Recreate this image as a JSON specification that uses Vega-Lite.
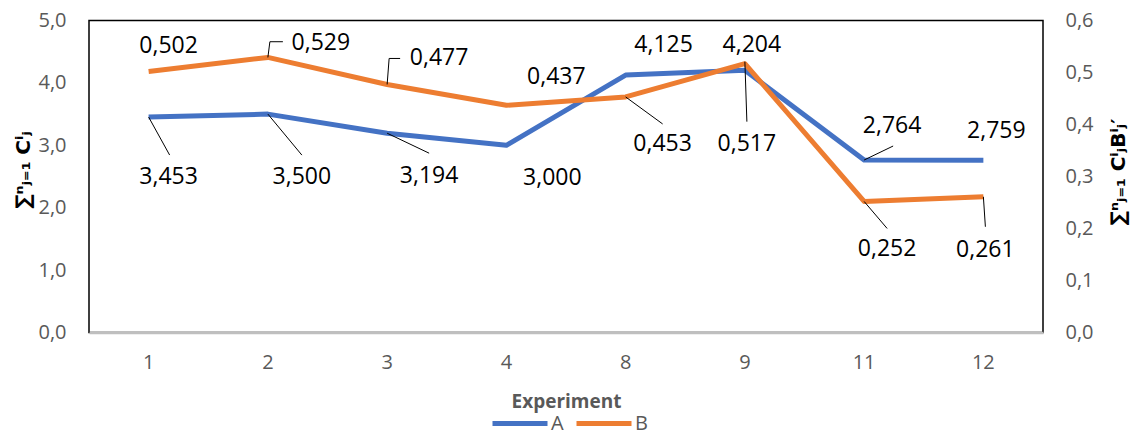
{
  "$schema": "https://vega.github.io/schema/vega-lite/v6.json",
  "autosize": {"type": "none"},
  "padding": {"left": 89, "top": 20.5, "right": 91, "bottom": 101.5},
  "width": 954,
  "height": 312,
  "config": {
    "locale": {"number": {"decimal": ",", "thousands": " ", "grouping": [3], "currency": ["", " €"]}},
    "view": {"stroke": "#000000", "strokeWidth": 1.5},
    "font": "Open Sans",
    "axis": {"grid": false, "ticks": false, "labelFont": "Open Sans", "labelFontSize": 20, "labelColor": "#595959", "domain": false}
  },
  "data": {
    "values": [
      {"Experiment": "1", "series": "A", "value": 3.453},
      {"Experiment": "2", "series": "A", "value": 3.5},
      {"Experiment": "3", "series": "A", "value": 3.194},
      {"Experiment": "4", "series": "A", "value": 3.0},
      {"Experiment": "8", "series": "A", "value": 4.125},
      {"Experiment": "9", "series": "A", "value": 4.204},
      {"Experiment": "11", "series": "A", "value": 2.764},
      {"Experiment": "12", "series": "A", "value": 2.759},
      {"Experiment": "1", "series": "B", "value": 0.502},
      {"Experiment": "2", "series": "B", "value": 0.529},
      {"Experiment": "3", "series": "B", "value": 0.477},
      {"Experiment": "4", "series": "B", "value": 0.437},
      {"Experiment": "8", "series": "B", "value": 0.453},
      {"Experiment": "9", "series": "B", "value": 0.517},
      {"Experiment": "11", "series": "B", "value": 0.252},
      {"Experiment": "12", "series": "B", "value": 0.261}
    ]
  },
  "layer": [
    {
      "transform": [{"filter": "datum.series === 'A'"}],
      "encoding": {
        "x": {"field": "Experiment", "type": "ordinal", "sort": ["1","2","3","4","8","9","11","12"],
          "axis": {"labelAngle": 0, "labelPadding": 30, "labelBaseline": "middle", "domain": true, "domainColor": "#BFBFBF", "domainWidth": 2.5,
            "title": "Experiment", "titleFont": "Open Sans", "titleFontSize": 19, "titleFontWeight": "bold", "titleColor": "#595959", "titleBaseline": "middle", "titleY": 69}},
        "y": {"field": "value", "type": "quantitative", "scale": {"domain": [0, 5], "nice": false},
          "axis": {"orient": "left", "values": [0,1,2,3,4,5], "format": ".1f", "labelPadding": 23,
            "title": "∑ⁿⱼ₌₁ Cⁱⱼ", "titleFont": "DejaVu Sans", "titleFontSize": 20, "titleFontWeight": "bold", "titleColor": "#000000",
            "titleAngle": -90, "titleAlign": "center", "titleBaseline": "middle", "titleX": -66, "titleY": 149}}
      },
      "layer": [
        {"mark": {"type": "line", "strokeWidth": 5, "strokeJoin": "round"},
          "encoding": {"color": {"field": "series", "type": "nominal", "scale": {"domain": ["A","B"], "range": ["#4472C4","#ED7D31"]},
            "legend": {"orient": "none", "legendX": 401, "legendY": 373, "direction": "horizontal", "title": null,
              "symbolType": "stroke", "symbolSize": 3025, "symbolStrokeWidth": 5, "labelFont": "Open Sans", "labelFontSize": 20, "labelColor": "#595959", "labelOffset": 1, "columnPadding": 2}}}},
        {"transform": [{"filter": "datum.Experiment === '1'"}], "mark": {"type": "rule", "color": "#000", "strokeWidth": 1, "x2Offset": 21, "y2Offset": 38}, "encoding": {"x2": {"field": "Experiment"}, "y2": {"field": "value"}}},
        {"transform": [{"filter": "datum.Experiment === '2'"}], "mark": {"type": "rule", "color": "#000", "strokeWidth": 1, "x2Offset": 34, "y2Offset": 41}, "encoding": {"x2": {"field": "Experiment"}, "y2": {"field": "value"}}},
        {"transform": [{"filter": "datum.Experiment === '3'"}], "mark": {"type": "rule", "color": "#000", "strokeWidth": 1, "x2Offset": 42, "y2Offset": 20}, "encoding": {"x2": {"field": "Experiment"}, "y2": {"field": "value"}}},
        {"transform": [{"filter": "datum.Experiment === '11'"}], "mark": {"type": "rule", "color": "#000", "strokeWidth": 1, "x2Offset": 29, "y2Offset": -14}, "encoding": {"x2": {"field": "Experiment"}, "y2": {"field": "value"}}},
        {"transform": [{"filter": "datum.Experiment === '1'"}], "mark": {"type": "text", "fontSize": 23, "color": "#000", "baseline": "middle", "dx": 20, "dy": 60}, "encoding": {"text": {"field": "value", "format": ".3f"}}},
        {"transform": [{"filter": "datum.Experiment === '2'"}], "mark": {"type": "text", "fontSize": 23, "color": "#000", "baseline": "middle", "dx": 34, "dy": 63}, "encoding": {"text": {"field": "value", "format": ".3f"}}},
        {"transform": [{"filter": "datum.Experiment === '3'"}], "mark": {"type": "text", "fontSize": 23, "color": "#000", "baseline": "middle", "dx": 42, "dy": 43}, "encoding": {"text": {"field": "value", "format": ".3f"}}},
        {"transform": [{"filter": "datum.Experiment === '4'"}], "mark": {"type": "text", "fontSize": 23, "color": "#000", "baseline": "middle", "dx": 46, "dy": 33}, "encoding": {"text": {"field": "value", "format": ".3f"}}},
        {"transform": [{"filter": "datum.Experiment === '8'"}], "mark": {"type": "text", "fontSize": 23, "color": "#000", "baseline": "middle", "dx": 38, "dy": -30}, "encoding": {"text": {"field": "value", "format": ".3f"}}},
        {"transform": [{"filter": "datum.Experiment === '9'"}], "mark": {"type": "text", "fontSize": 23, "color": "#000", "baseline": "middle", "dx": 7, "dy": -25}, "encoding": {"text": {"field": "value", "format": ".3f"}}},
        {"transform": [{"filter": "datum.Experiment === '11'"}], "mark": {"type": "text", "fontSize": 23, "color": "#000", "baseline": "middle", "dx": 28, "dy": -34}, "encoding": {"text": {"field": "value", "format": ".3f"}}},
        {"transform": [{"filter": "datum.Experiment === '12'"}], "mark": {"type": "text", "fontSize": 23, "color": "#000", "baseline": "middle", "dx": 13, "dy": -29}, "encoding": {"text": {"field": "value", "format": ".3f"}}}
      ]
    },
    {
      "transform": [{"filter": "datum.series === 'B'"}],
      "encoding": {
        "x": {"field": "Experiment", "type": "ordinal", "sort": ["1","2","3","4","8","9","11","12"],
          "axis": {"labelAngle": 0, "labelPadding": 30, "labelBaseline": "middle", "domain": true, "domainColor": "#BFBFBF", "domainWidth": 2.5,
            "title": "Experiment", "titleFont": "Open Sans", "titleFontSize": 19, "titleFontWeight": "bold", "titleColor": "#595959", "titleBaseline": "middle", "titleY": 69}},
        "y": {"field": "value", "type": "quantitative", "scale": {"domain": [0, 0.6], "nice": false},
          "axis": {"orient": "right", "values": [0,0.1,0.2,0.3,0.4,0.5,0.6], "format": ".1f", "labelPadding": 22,
            "title": "∑ⁿⱼ₌₁ CⁱⱼBⁱⱼ′", "titleFont": "DejaVu Sans", "titleFontSize": 20, "titleFontWeight": "bold", "titleColor": "#000000",
            "titleAngle": -90, "titleAlign": "center", "titleBaseline": "middle", "titleX": 75, "titleY": 151}}
      },
      "layer": [
        {"mark": {"type": "line", "strokeWidth": 5, "strokeJoin": "round"},
          "encoding": {"color": {"field": "series", "type": "nominal", "scale": {"domain": ["A","B"], "range": ["#4472C4","#ED7D31"]}}}},
        {"transform": [{"filter": "datum.Experiment === '2'"}], "mark": {"type": "rule", "color": "#000", "strokeWidth": 1, "x2Offset": 2, "y2Offset": -15.7}, "encoding": {"x2": {"field": "Experiment"}, "y2": {"field": "value"}}},
        {"transform": [{"filter": "datum.Experiment === '2'"}], "mark": {"type": "rule", "color": "#000", "strokeWidth": 1, "xOffset": 2, "yOffset": -15.7, "x2Offset": 15, "y2Offset": -15.7}, "encoding": {"x2": {"field": "Experiment"}, "y2": {"field": "value"}}},
        {"transform": [{"filter": "datum.Experiment === '3'"}], "mark": {"type": "rule", "color": "#000", "strokeWidth": 1, "x2Offset": 2, "y2Offset": -26}, "encoding": {"x2": {"field": "Experiment"}, "y2": {"field": "value"}}},
        {"transform": [{"filter": "datum.Experiment === '3'"}], "mark": {"type": "rule", "color": "#000", "strokeWidth": 1, "xOffset": 2, "yOffset": -26, "x2Offset": 13, "y2Offset": -26}, "encoding": {"x2": {"field": "Experiment"}, "y2": {"field": "value"}}},
        {"transform": [{"filter": "datum.Experiment === '8'"}], "mark": {"type": "rule", "color": "#000", "strokeWidth": 1, "x2Offset": 37, "y2Offset": 27}, "encoding": {"x2": {"field": "Experiment"}, "y2": {"field": "value"}}},
        {"transform": [{"filter": "datum.Experiment === '9'"}], "mark": {"type": "rule", "color": "#000", "strokeWidth": 1, "yOffset": -2, "x2Offset": 2, "y2Offset": 58}, "encoding": {"x2": {"field": "Experiment"}, "y2": {"field": "value"}}},
        {"transform": [{"filter": "datum.Experiment === '11'"}], "mark": {"type": "rule", "color": "#000", "strokeWidth": 1, "x2Offset": 23, "y2Offset": 27}, "encoding": {"x2": {"field": "Experiment"}, "y2": {"field": "value"}}},
        {"transform": [{"filter": "datum.Experiment === '12'"}], "mark": {"type": "rule", "color": "#000", "strokeWidth": 1, "x2Offset": 2, "y2Offset": 30}, "encoding": {"x2": {"field": "Experiment"}, "y2": {"field": "value"}}},
        {"transform": [{"filter": "datum.Experiment === '1'"}], "mark": {"type": "text", "fontSize": 23, "color": "#000", "baseline": "middle", "dx": 20, "dy": -25}, "encoding": {"text": {"field": "value", "format": ".3f"}}},
        {"transform": [{"filter": "datum.Experiment === '2'"}], "mark": {"type": "text", "fontSize": 23, "color": "#000", "baseline": "middle", "dx": 53, "dy": -14}, "encoding": {"text": {"field": "value", "format": ".3f"}}},
        {"transform": [{"filter": "datum.Experiment === '3'"}], "mark": {"type": "text", "fontSize": 23, "color": "#000", "baseline": "middle", "dx": 52, "dy": -26}, "encoding": {"text": {"field": "value", "format": ".3f"}}},
        {"transform": [{"filter": "datum.Experiment === '4'"}], "mark": {"type": "text", "fontSize": 23, "color": "#000", "baseline": "middle", "dx": 50, "dy": -28}, "encoding": {"text": {"field": "value", "format": ".3f"}}},
        {"transform": [{"filter": "datum.Experiment === '8'"}], "mark": {"type": "text", "fontSize": 23, "color": "#000", "baseline": "middle", "dx": 37, "dy": 47}, "encoding": {"text": {"field": "value", "format": ".3f"}}},
        {"transform": [{"filter": "datum.Experiment === '9'"}], "mark": {"type": "text", "fontSize": 23, "color": "#000", "baseline": "middle", "dx": 2, "dy": 80}, "encoding": {"text": {"field": "value", "format": ".3f"}}},
        {"transform": [{"filter": "datum.Experiment === '11'"}], "mark": {"type": "text", "fontSize": 23, "color": "#000", "baseline": "middle", "dx": 23, "dy": 48}, "encoding": {"text": {"field": "value", "format": ".3f"}}},
        {"transform": [{"filter": "datum.Experiment === '12'"}], "mark": {"type": "text", "fontSize": 23, "color": "#000", "baseline": "middle", "dx": 2, "dy": 53}, "encoding": {"text": {"field": "value", "format": ".3f"}}}
      ]
    }
  ],
  "resolve": {"scale": {"y": "independent"}}
}
